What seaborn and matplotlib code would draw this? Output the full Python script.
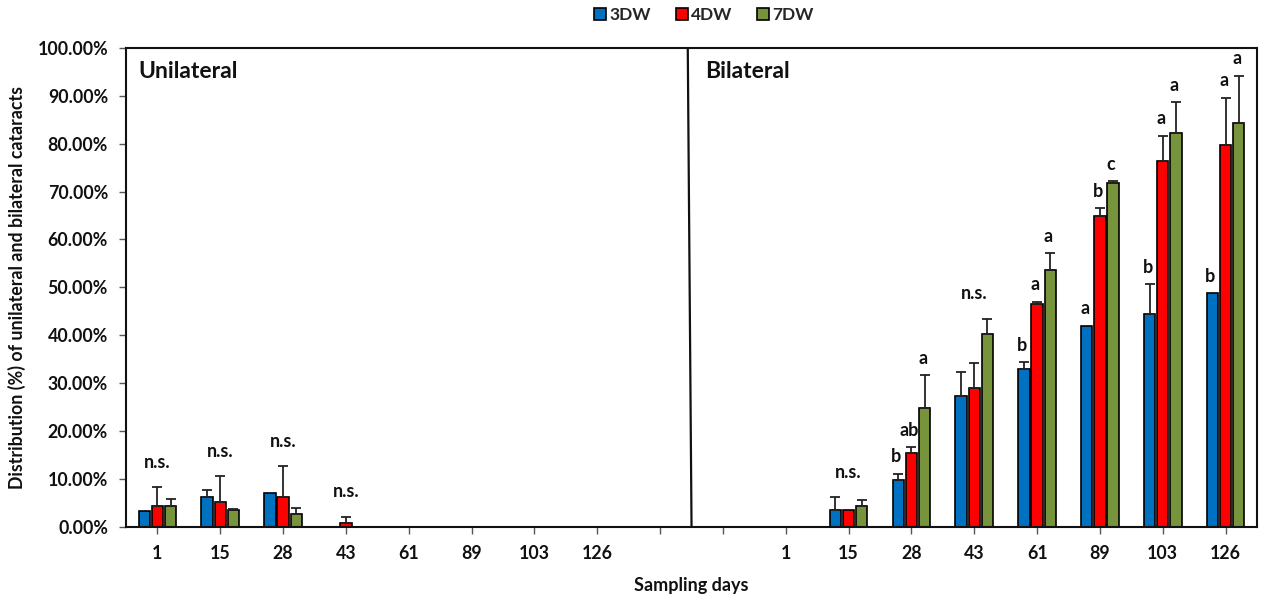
import numpy as np
import pandas as pd
import matplotlib
matplotlib.use("Agg")
import matplotlib.pyplot as plt
import seaborn as sns

# ---------------- data ----------------
days = ["1", "15", "28", "43", "61", "89", "103", "126"]
series = ["3DW", "4DW", "7DW"]
colors = ["#0070C0", "#FF0000", "#77933C"]

# Unilateral cataracts (%)
uni_3dw = [3.4, 6.3, 7.0, 0.0, 0.0, 0.0, 0.0, 0.0]
uni_4dw = [4.4, 5.2, 6.3, 0.9, 0.0, 0.0, 0.0, 0.0]
uni_7dw = [4.4, 3.5, 2.7, 0.0, 0.0, 0.0, 0.0, 0.0]
uni_err_3dw = [np.nan, 1.4, np.nan, np.nan, np.nan, np.nan, np.nan, np.nan]
uni_err_4dw = [3.9, 5.4, 6.4, 1.2, np.nan, np.nan, np.nan, np.nan]
uni_err_7dw = [1.4, 0.2, 1.3, np.nan, np.nan, np.nan, np.nan, np.nan]

# Bilateral cataracts (%)
bi_3dw = [0.0, 3.5, 9.8, 27.3, 32.9, 42.0, 44.4, 48.8]
bi_4dw = [0.0, 3.5, 15.5, 29.0, 46.5, 64.8, 76.4, 79.7]
bi_7dw = [0.0, 4.4, 24.8, 40.3, 53.7, 71.7, 82.2, 84.3]
bi_err_3dw = [np.nan, 2.7, 1.3, 5.1, 1.5, np.nan, 6.3, np.nan]
bi_err_4dw = [np.nan, np.nan, 1.1, 5.2, 0.5, 1.7, 5.2, 9.9]
bi_err_7dw = [np.nan, 1.2, 6.9, 3.1, 3.4, 0.4, 6.4, 9.9]

# significance labels: string = one label over the group, list = one per bar
uni_labels = ["n.s.", "n.s.", "n.s.", "n.s.", None, None, None, None]
bi_labels = [None, "n.s.", ["b", "ab", "a"], "n.s.", ["b", "a", "a"],
             ["a", "b", "c"], ["b", "a", "a"], ["b", "a", "a"]]

panel_names = ["Unilateral", "Bilateral"]

# ---------------- table ----------------
uni_vals = [uni_3dw, uni_4dw, uni_7dw]
uni_errs = [uni_err_3dw, uni_err_4dw, uni_err_7dw]
bi_vals = [bi_3dw, bi_4dw, bi_7dw]
bi_errs = [bi_err_3dw, bi_err_4dw, bi_err_7dw]

rows = []
for prefix, vals, errs in [("U", uni_vals, uni_errs), ("B", bi_vals, bi_errs)]:
    for j, s in enumerate(series):
        for i, d in enumerate(days):
            rows.append({"cat": f"{prefix}{d}", "series": s,
                         "value": vals[j][i], "err": errs[j][i]})
df = pd.DataFrame(rows)

order = [f"U{d}" for d in days] + ["gapA", "gapB"] + [f"B{d}" for d in days]
tick_labels = days + ["", ""] + days

# ---------------- plot ----------------
sns.set_theme(style="white")
plt.rcParams["font.family"] = ["Lato", "DejaVu Sans"]
plt.rcParams["font.weight"] = "bold"

TXT = "#111111"
fig, ax = plt.subplots(figsize=(12.64, 5.97), dpi=100)
fig.subplots_adjust(left=0.0997, right=0.9945, top=0.920, bottom=0.1173)

sns.barplot(data=df, x="cat", y="value", hue="series", order=order,
            hue_order=series, palette=colors, saturation=1,
            width=0.63, gap=0.14, edgecolor="black", linewidth=1.2,
            errorbar=None, ax=ax, zorder=2)

offsets = [-0.21, 0.0, 0.21]
ann_kw = dict(textcoords="offset pixels", ha="center", va="center",
              fontsize=13, fontweight="bold", color=TXT)

for prefix, vals, errs, labels in [("U", uni_vals, uni_errs, uni_labels),
                                   ("B", bi_vals, bi_errs, bi_labels)]:
    for i, d in enumerate(days):
        xc = order.index(f"{prefix}{d}")
        tops = []
        for j in range(3):
            v = vals[j][i]
            e = errs[j][i]
            x = xc + offsets[j]
            if not np.isnan(e):
                ax.errorbar([x], [v], yerr=[[0], [e]], fmt="none",
                            ecolor="#222222", elinewidth=1.3, capsize=3.5,
                            capthick=1.3, zorder=3)
                tops.append(v + e)
            else:
                tops.append(v)
        lab = labels[i]
        if lab is None:
            continue
        if isinstance(lab, str):
            ax.annotate(lab, (xc, max(tops)), xytext=(0, 25), **ann_kw)
        else:
            for j in range(3):
                ax.annotate(lab[j], (xc + offsets[j], tops[j]),
                            xytext=(-2, 17), **ann_kw)

# divider between panels
ax.plot([8.44, 8.5], [100, 0], color=TXT, lw=1.6, zorder=4)

# panel titles
ax.text(-0.31, 95.0, panel_names[0], ha="left", va="center",
        fontsize=16.5, fontweight="bold", color=TXT)
ax.text(8.72, 95.0, panel_names[1], ha="left", va="center",
        fontsize=16.5, fontweight="bold", color=TXT)

# axes styling
ax.set_xlim(-0.5, len(order) - 0.5)
ax.set_ylim(0, 100)
ax.set_yticks(np.arange(0, 101, 10))
ax.set_yticklabels([f"{t:.2f}%" for t in np.arange(0, 101, 10)])
ax.set_xticks(range(len(order)))
ax.set_xticklabels(tick_labels)
ax.tick_params(axis="both", direction="out", length=5, width=1,
               color="#555555", labelsize=12.8, labelcolor=TXT)
ax.tick_params(axis="y", pad=8)
ax.tick_params(axis="x", pad=8)
ax.tick_params(left=True, bottom=True)
for lbl in ax.get_xticklabels() + ax.get_yticklabels():
    lbl.set_fontweight("bold")
for sp in ax.spines.values():
    sp.set_visible(True)
    sp.set_color(TXT)
    sp.set_linewidth(1.5)

ax.set_xlabel("Sampling days", fontsize=13, fontweight="bold",
              color=TXT, labelpad=11)
ax.set_ylabel("Distribution (%) of unilateral and bilateral cataracts",
              fontsize=12.8, fontweight="bold", color=TXT, labelpad=8)

# legend at top
leg = ax.get_legend()
handles = leg.legend_handles
leg.remove()
fig.legend(handles, series, loc="center", bbox_to_anchor=(0.557, 0.975),
           ncol=3, frameon=False, handlelength=0.7, handleheight=0.7,
           handletextpad=0.2, columnspacing=1.4,
           prop={"weight": "bold", "size": 12.5})
for h in handles:
    h.set_edgecolor("black")
    h.set_linewidth(1.2)

fig.savefig("out.png", dpi=100)
